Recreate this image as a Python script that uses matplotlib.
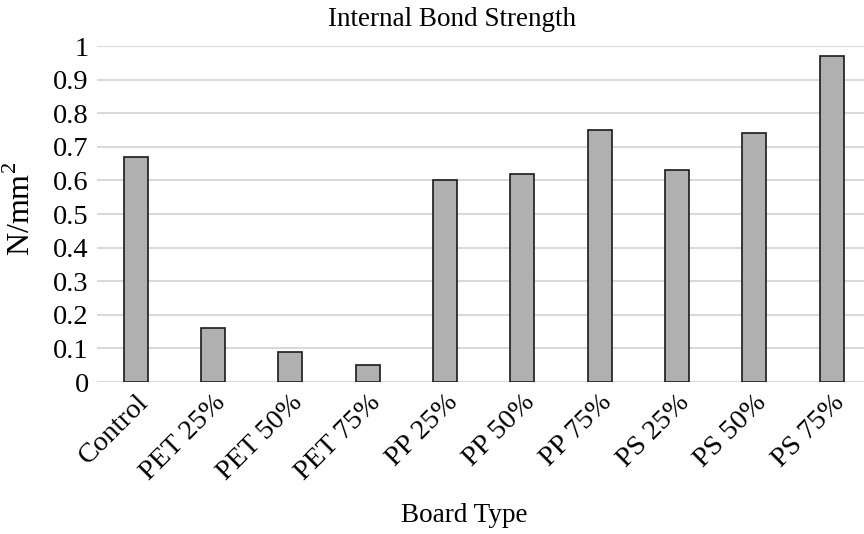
import matplotlib
matplotlib.use("Agg")
import matplotlib.pyplot as plt

categories = ["Control", "PET 25%", "PET 50%", "PET 75%", "PP 25%", "PP 50%",
              "PP 75%", "PS 25%", "PS 50%", "PS 75%"]
values = [0.67, 0.16, 0.09, 0.05, 0.60, 0.62, 0.75, 0.63, 0.74, 0.97]
yticks = [0, 0.1, 0.2, 0.3, 0.4, 0.5, 0.6, 0.7, 0.8, 0.9, 1]
ytick_labels = ["0", "0.1", "0.2", "0.3", "0.4", "0.5", "0.6", "0.7", "0.8", "0.9", "1"]

plt.rcParams['font.family'] = ['Liberation Serif', 'DejaVu Serif']
plt.rcParams['mathtext.fontset'] = 'custom'
plt.rcParams['mathtext.rm'] = 'Liberation Serif'

W, H = 864, 534
fig = plt.figure(figsize=(W/100, H/100), dpi=100)
left, right, top, bottom = 97, 864, 46, 382
ax = fig.add_axes([left/W, 1-bottom/H, (right-left)/W, (bottom-top)/H])

x = list(range(len(categories)))
ax.bar(x, values, width=0.31, color='#b0b0b0', edgecolor='#1a1a1a', linewidth=1.2, zorder=3)

ax.set_ylim(0, 1)
ax.set_xlim(-0.5, 9.42)
ax.set_yticks(yticks)
ax.set_yticklabels(ytick_labels, fontsize=20.5)
ax.set_xticks(x)
ax.set_xticklabels(categories, rotation=45, ha='right', rotation_mode='anchor', fontsize=20.5)
ax.tick_params(axis='both', length=0)
ax.tick_params(axis='y', pad=6)
ax.tick_params(axis='x', pad=6)
for s in ax.spines.values():
    s.set_visible(False)
ax.yaxis.grid(True, color='#d9d9d9', linewidth=1.5, zorder=0)
ax.set_axisbelow(True)

fig.text(452.5/W, 1-20/H, "Internal Bond Strength", ha='center', va='center', fontsize=19.5)
fig.text(464.5/W, 1-516/H, "Board Type", ha='center', va='center', fontsize=19.5)
fig.text(21/W, 1-209/H, "N/mm$^2$", ha='center', va='center', rotation=90, fontsize=23)

fig.savefig("out.png", dpi=100)
